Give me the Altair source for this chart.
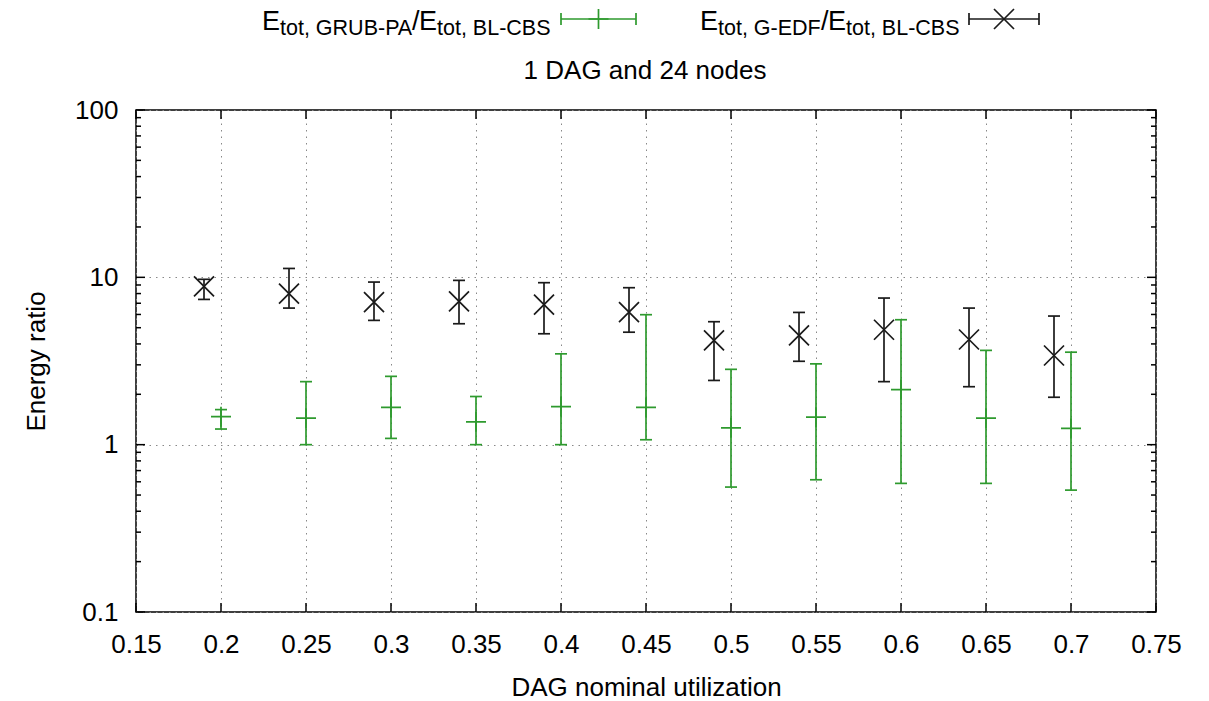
import altair as alt
import pandas as pd

# ---- data ----
x_gedf = [0.19, 0.24, 0.29, 0.34, 0.39, 0.44, 0.49, 0.54, 0.59, 0.64, 0.69]
gedf_mid = [8.83, 7.99, 7.11, 7.18, 6.86, 6.20, 4.20, 4.50, 4.86, 4.25, 3.41]
gedf_lo = [7.38, 6.55, 5.53, 5.28, 4.60, 4.70, 2.42, 3.15, 2.38, 2.22, 1.92]
gedf_hi = [9.73, 11.3, 9.37, 9.59, 9.29, 8.67, 5.43, 6.17, 7.52, 6.55, 5.87]

x_grub = [0.20, 0.25, 0.30, 0.35, 0.40, 0.45, 0.50, 0.55, 0.60, 0.65, 0.70]
grub_mid = [1.47, 1.44, 1.67, 1.37, 1.69, 1.67, 1.26, 1.46, 2.13, 1.44, 1.25]
grub_lo = [1.24, 1.00, 1.09, 1.00, 1.00, 1.07, 0.558, 0.617, 0.587, 0.587, 0.535]
grub_hi = [1.62, 2.38, 2.56, 1.94, 3.49, 5.98, 2.82, 3.04, 5.58, 3.66, 3.57]

x_ticks = [0.15, 0.2, 0.25, 0.3, 0.35, 0.4, 0.45, 0.5, 0.55, 0.6, 0.65, 0.7, 0.75]
y_major = [0.1, 1, 10, 100]
y_minor = [0.2, 0.3, 0.4, 0.5, 0.6, 0.7, 0.8, 0.9,
           2, 3, 4, 5, 6, 7, 8, 9,
           20, 30, 40, 50, 60, 70, 80, 90]

title_text = "1 DAG and 24 nodes"
x_title = "DAG nominal utilization"
y_title = "Energy ratio"

GREEN = "#2e9a2e"
BLACK = "#1a1a1a"
FONT = "Liberation Sans"
W, H = 1020, 502

df_grub = pd.DataFrame({"x": x_grub, "mid": grub_mid, "lo": grub_lo, "hi": grub_hi})
df_gedf = pd.DataFrame({"x": x_gedf, "mid": gedf_mid, "lo": gedf_lo, "hi": gedf_hi})
df_xt = pd.DataFrame({"v": x_ticks})
df_ymaj = pd.DataFrame({"v": y_major})
df_ymin = pd.DataFrame({"v": y_minor})
one = pd.DataFrame({"a": [0]})

xscale = alt.Scale(domain=[0.15, 0.75], nice=False, zero=False)
yscale = alt.Scale(type="log", domain=[0.1, 100], nice=False)

xaxis = alt.Axis(values=x_ticks, format="~g", ticks=False, domain=False,
                 grid=True, gridDash=[1.5, 5], gridColor="#888888", gridWidth=1,
                 labelFont=FONT, labelFontSize=26, labelColor="#000",
                 labelPadding=19, labelFlush=False, labelOverlap=False,
                 title=x_title, titleFont=FONT, titleFontSize=26,
                 titleFontWeight="normal", titleColor="#000",
                 titleBaseline="alphabetic", titleY=83)
yaxis = alt.Axis(values=y_major, format="~g", ticks=False, domain=False,
                 grid=True, gridDash=[1.5, 5], gridColor="#888888", gridWidth=1,
                 labelFont=FONT, labelFontSize=26, labelColor="#000",
                 labelPadding=18, labelFlush=False, labelOverlap=False,
                 title=y_title, titleFont=FONT, titleFontSize=26,
                 titleFontWeight="normal", titleColor="#000",
                 titleBaseline="alphabetic", titleX=-92)

X = lambda f: alt.X(f, type="quantitative", scale=xscale, axis=xaxis)
Y = lambda f: alt.Y(f, type="quantitative", scale=yscale, axis=yaxis)

def errbars(df, color):
    base = alt.Chart(df)
    bar = base.mark_rule(color=color, strokeWidth=1.7).encode(
        x=X("x"), y=Y("lo"), y2="hi")
    cap_hi = base.mark_rule(color=color, strokeWidth=1.7, xOffset=-6, x2Offset=6).encode(
        x=X("x"), x2="x", y=Y("hi"))
    cap_lo = base.mark_rule(color=color, strokeWidth=1.7, xOffset=-6, x2Offset=6).encode(
        x=X("x"), x2="x", y=Y("lo"))
    return [bar, cap_hi, cap_lo]

PLUS = "M-1,0L1,0M0,-1L0,1"
CROSS = "M-1,-1L1,1M1,-1L-1,1"

grub_pts = alt.Chart(df_grub).mark_point(shape=PLUS, size=400, filled=False,
                                          color=GREEN, strokeWidth=1.7, opacity=1).encode(
    x=X("x"), y=Y("mid"))
gedf_pts = alt.Chart(df_gedf).mark_point(shape=CROSS, size=400, filled=False,
                                          color=BLACK, strokeWidth=1.7, opacity=1).encode(
    x=X("x"), y=Y("mid"))

# inward ticks on all four sides (gnuplot style)
tk = dict(color="#000", strokeWidth=1.5)
xt_bot = alt.Chart(df_xt).mark_rule(**tk).encode(x=X("v"), y=alt.value(H), y2=alt.value(H - 9))
xt_top = alt.Chart(df_xt).mark_rule(**tk).encode(x=X("v"), y=alt.value(0), y2=alt.value(9))
yt_l = alt.Chart(df_ymaj).mark_rule(**tk).encode(y=Y("v"), x=alt.value(0), x2=alt.value(9))
yt_r = alt.Chart(df_ymaj).mark_rule(**tk).encode(y=Y("v"), x=alt.value(W), x2=alt.value(W - 9))
ym_l = alt.Chart(df_ymin).mark_rule(**tk).encode(y=Y("v"), x=alt.value(0), x2=alt.value(5))
ym_r = alt.Chart(df_ymin).mark_rule(**tk).encode(y=Y("v"), x=alt.value(W), x2=alt.value(W - 5))

# ---- legend (text with subscripts) ----
def txt(s, x, y, size):
    return alt.Chart(one).mark_text(text=s, font=FONT, fontSize=size, align="left",
                                    baseline="alphabetic", color="#000").encode(
        x=alt.value(x), y=alt.value(y))

EB, SB, ES, SS = -80.5, -75, 27, 21.5
legend = [
    txt("E", 126, EB, ES), txt("tot, GRUB-PA", 144, SB, SS), txt("/", 276, EB, ES),
    txt("E", 283, EB, ES), txt("tot, BL-CBS", 301, SB, SS),
    txt("E", 564, EB, ES), txt("tot, G-EDF", 582, SB, SS), txt("/", 685, EB, ES),
    txt("E", 692, EB, ES), txt("tot, BL-CBS", 710, SB, SS),
]

def leg_sym(x0, x1, y, color, shape):
    lw = dict(color=color, strokeWidth=1.7)
    h = alt.Chart(one).mark_rule(**lw).encode(x=alt.value(x0), x2=alt.value(x1), y=alt.value(y))
    c0 = alt.Chart(one).mark_rule(**lw).encode(x=alt.value(x0), y=alt.value(y - 6), y2=alt.value(y + 6))
    c1 = alt.Chart(one).mark_rule(**lw).encode(x=alt.value(x1), y=alt.value(y - 6), y2=alt.value(y + 6))
    m = alt.Chart(one).mark_point(shape=shape, size=400, filled=False, color=color,
                                  strokeWidth=1.7, opacity=1).encode(
        x=alt.value((x0 + x1) / 2), y=alt.value(y))
    return [h, c0, c1, m]

legend += leg_sym(425, 500, -91, GREEN, PLUS)
legend += leg_sym(833, 903, -91, BLACK, CROSS)

title = alt.Chart(one).mark_text(text=title_text, font=FONT, fontSize=26, align="center",
                                 baseline="alphabetic", color="#000").encode(
    x=alt.value(509), y=alt.value(-31))

layers = (errbars(df_grub, GREEN) + [grub_pts] + errbars(df_gedf, BLACK) + [gedf_pts]
          + [xt_bot, xt_top, yt_l, yt_r, ym_l, ym_r] + legend + [title])

chart = alt.layer(*layers).properties(
    width=W, height=H,
    autosize=alt.AutoSizeParams(type="none"),
    padding={"left": 128, "top": 102, "right": 45, "bottom": 96},
    background="white",
).configure_view(stroke="#000", strokeWidth=1.5)

chart.save("out.html", embed_options={"renderer": "svg", "actions": False})
